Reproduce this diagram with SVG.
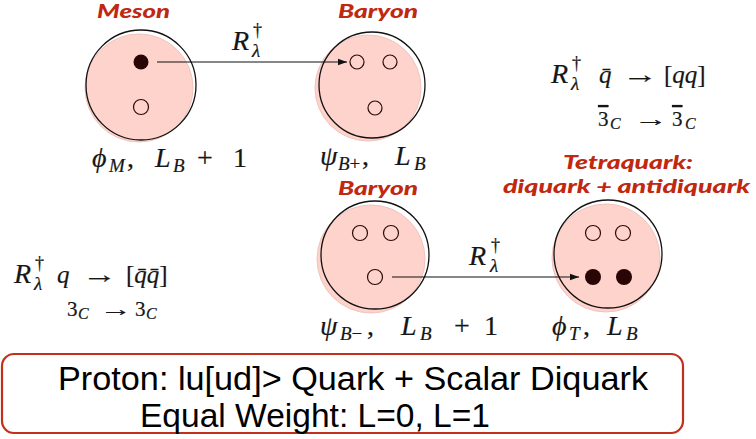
<svg xmlns="http://www.w3.org/2000/svg" width="756" height="439" viewBox="0 0 756 439">
<defs>
<style>
.pink{fill:#fdd3cc;stroke:#f0c4bd;stroke-width:1}
.ring{fill:none;stroke:#111;stroke-width:1.3}
.q{fill:none;stroke:#2a0a05;stroke-width:1.2}
.qf{fill:#2a0505;stroke:none}
.lab{font-family:Lato,"Open Sans",sans-serif;font-weight:900;font-style:italic;fill:#c0280f;font-size:19px}
.m{font-family:"Liberation Serif","DejaVu Serif",serif;fill:#161616;stroke:#161616;stroke-width:0.2}
.mi{font-style:italic}
.sub{font-size:19px}
.box{font-family:"Liberation Sans",Arial,sans-serif;fill:#000;font-size:33px}
.conn{stroke:#111;stroke-width:1.2;fill:none}
.ov{text-decoration:overline}
</style>
<marker id="ah" viewBox="0 0 10 10" refX="10" refY="5" markerWidth="9" markerHeight="9" markerUnits="userSpaceOnUse" orient="auto">
<path d="M0,1.5 L10,5 L0,8.5 z" fill="#111"/>
</marker>
</defs>
<rect width="756" height="439" fill="#fff"/>

<g id="meson">
<text class="lab" x="97" y="18" textLength="73" lengthAdjust="spacingAndGlyphs">Meson</text>
<circle class="pink" cx="139" cy="88" r="54"/>
<circle class="ring" cx="141" cy="85" r="55"/>
<circle class="qf" cx="141" cy="62" r="7.5"/>
<circle class="q" cx="141" cy="107" r="7.5"/>
<text class="m" y="167" font-size="28"><tspan x="92" class="mi">ϕ</tspan><tspan class="mi sub" x="109" dy="5">M</tspan><tspan x="127" dy="-5">,</tspan><tspan x="155" class="mi">L</tspan><tspan class="mi sub" x="173" dy="5">B</tspan><tspan dy="-5" x="197">+</tspan><tspan x="233">1</tspan></text>
</g>

<g id="baryon-top">
<text class="lab" x="338" y="18" textLength="80" lengthAdjust="spacingAndGlyphs">Baryon</text>
<circle class="pink" cx="368" cy="88" r="53"/>
<circle class="ring" cx="372" cy="85" r="53"/>
<circle class="q" cx="357" cy="62" r="7"/>
<circle class="q" cx="390" cy="62" r="7"/>
<circle class="q" cx="375" cy="108" r="7"/>
<text class="m" y="165" font-size="28"><tspan x="320" class="mi">ψ</tspan><tspan class="sub" x="338" dy="5"><tspan class="mi">B</tspan>+</tspan><tspan x="362" dy="-5">,</tspan><tspan x="395" class="mi">L</tspan><tspan class="mi sub" x="414" dy="5">B</tspan></text>
</g>

<g id="baryon-bottom">
<text class="lab" x="338" y="195" textLength="80" lengthAdjust="spacingAndGlyphs">Baryon</text>
<circle class="pink" cx="371" cy="259" r="54"/>
<circle class="ring" cx="375" cy="255" r="54"/>
<circle class="q" cx="360" cy="233" r="7.5"/>
<circle class="q" cx="391" cy="233" r="7.5"/>
<circle class="q" cx="375" cy="277" r="7.5"/>
<text class="m" y="335" font-size="28"><tspan x="320" class="mi">ψ</tspan><tspan class="sub" x="340" dy="5"><tspan class="mi">B</tspan>−</tspan><tspan x="367" dy="-5">,</tspan><tspan x="401" class="mi">L</tspan><tspan class="mi sub" x="420" dy="5">B</tspan><tspan dy="-5" x="454">+</tspan><tspan x="484">1</tspan></text>
</g>

<g id="tetraquark">
<text class="lab" x="563" y="169" textLength="130" lengthAdjust="spacingAndGlyphs">Tetraquark:</text>
<text class="lab" x="503" y="193" textLength="247" lengthAdjust="spacingAndGlyphs">diquark + antidiquark</text>
<circle class="pink" cx="606" cy="258" r="54"/>
<circle class="ring" cx="608" cy="254" r="54"/>
<circle class="q" cx="593" cy="233" r="7.5"/>
<circle class="q" cx="623" cy="233" r="7.5"/>
<circle class="qf" cx="593" cy="277" r="8"/>
<circle class="qf" cx="624" cy="277" r="8"/>
<text class="m" y="335" font-size="28"><tspan x="552" class="mi">ϕ</tspan><tspan class="mi sub" x="569" dy="5">T</tspan><tspan x="583" dy="-5">,</tspan><tspan x="607" class="mi">L</tspan><tspan class="mi sub" x="626" dy="5">B</tspan></text>
</g>

<g id="connectors">
<line class="conn" x1="157" y1="62" x2="347" y2="62" marker-end="url(#ah)"/>
<line class="conn" x1="392" y1="277" x2="579" y2="277" marker-end="url(#ah)"/>
</g>

<g id="arrow-labels">
<text class="m mi" x="232" y="50" font-size="28">R</text>
<text class="m" x="253" y="36" font-size="18">†</text>
<text class="m mi" x="252" y="57" font-size="19">λ</text>
<text class="m mi" x="469" y="265" font-size="28">R</text>
<text class="m" x="491" y="251" font-size="18">†</text>
<text class="m mi" x="490" y="272" font-size="19">λ</text>
</g>

<g id="formula-right">
<text class="m mi" x="551" y="83" font-size="28">R</text>
<text class="m" x="572" y="69" font-size="18">†</text>
<text class="m mi" x="571" y="90" font-size="19">λ</text>
<text class="m" y="83" font-size="25"><tspan x="599" class="mi">q̄</tspan><tspan x="622" textLength="36" lengthAdjust="spacingAndGlyphs">→</tspan><tspan x="664">[</tspan><tspan class="mi">qq</tspan><tspan>]</tspan></text>
<text class="m" y="126" font-size="21"><tspan x="598" class="ov">3</tspan><tspan class="mi" font-size="16" x="610" dy="3">C</tspan><tspan dy="-3" x="634" textLength="34" lengthAdjust="spacingAndGlyphs">→</tspan><tspan x="672" class="ov">3</tspan><tspan class="mi" font-size="16" x="685" dy="3">C</tspan></text>
</g>

<g id="formula-left">
<text class="m mi" x="14" y="283" font-size="28">R</text>
<text class="m" x="35" y="269" font-size="18">†</text>
<text class="m mi" x="34" y="290" font-size="19">λ</text>
<text class="m" y="283" font-size="25"><tspan x="57" class="mi">q</tspan><tspan x="82" textLength="35" lengthAdjust="spacingAndGlyphs">→</tspan><tspan x="126">[</tspan><tspan class="mi">q̄q̄</tspan><tspan>]</tspan></text>
<text class="m" y="316" font-size="21"><tspan x="67">3</tspan><tspan class="mi" font-size="16" x="78" dy="3">C</tspan><tspan dy="-3" x="100" textLength="32" lengthAdjust="spacingAndGlyphs">→</tspan><tspan x="135">3</tspan><tspan class="mi" font-size="16" x="146" dy="3">C</tspan></text>
</g>

<g id="proton-box">
<rect x="2" y="354" width="681" height="79" rx="12" ry="12" fill="#fff" stroke="#c0301a" stroke-width="2.2"/>
<text class="box" x="58" y="390" textLength="590" lengthAdjust="spacingAndGlyphs">Proton: lu[ud]&gt; Quark + Scalar Diquark</text>
<text class="box" x="140" y="427" textLength="350" lengthAdjust="spacingAndGlyphs">Equal Weight: L=0, L=1</text>
</g>
</svg>
